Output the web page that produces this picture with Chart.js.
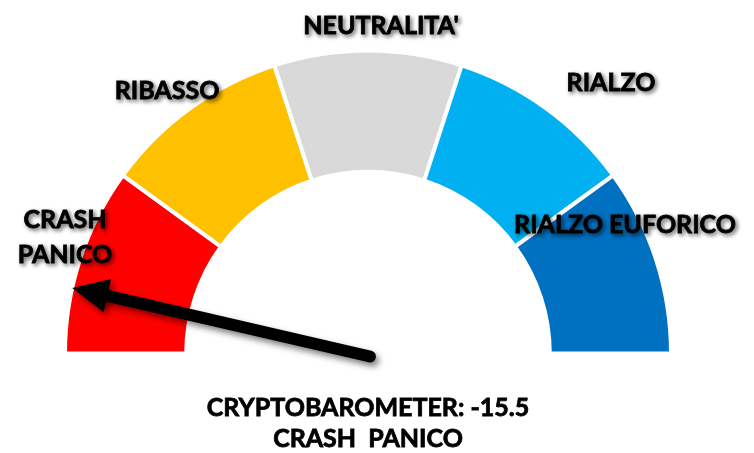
<!DOCTYPE html>
<html>
<head>
<meta charset="utf-8">
<script src="https://cdn.jsdelivr.net/npm/chart.js@4.4.1/dist/chart.umd.min.js"></script>
<style>
  html, body { margin: 0; padding: 0; background: #fff; }
  #wrap { width: 754px; height: 453px; position: relative; }
</style>
</head>
<body>
<div id="wrap"><canvas id="gauge"></canvas></div>
<script>
//
// Gauge data
var zones = ['CRASH PANICO', 'RIBASSO', "NEUTRALITA'", 'RIALZO', 'RIALZO EUFORICO'];
var zoneSizes = [1, 1, 1, 1, 1];
var zoneColors = ['#FF0000', '#FFC000', '#D9D9D9', '#00B0F0', '#0070C0'];
var gaugeMin = -18;
var gaugeMax = 18;
var needleValue = -15.5;
var titleLines = ['CRYPTOBAROMETER: -15.5', 'CRASH  PANICO'];

var FONT = 'bold 25px Lato, "Open Sans", sans-serif';

//
// Draw text a bit heavier
function boldText(ctx, txt, x, y){
  ctx.fillText(txt, x, y);
  ctx.strokeText(txt, x, y);
}

//
// Labels + needle + caption
var gaugeExtras = {
  id: 'gaugeExtras',
  afterDraw: function(chart){
    var ctx = chart.ctx;
    var arc = chart.getDatasetMeta(0).data[0];
    var cx = arc.x, cy = arc.y, r = arc.outerRadius;

    // zone labels, placed relative to the gauge centre
    var spots = [
      { lines: ['CRASH', 'PANICO'], dx: -303, dy: -134 },
      { lines: ['RIBASSO'], dx: -201, dy: -263 },
      { lines: ["NEUTRALITA'"], dx: 13, dy: -328 },
      { lines: ['RIALZO'], dx: 243, dy: -271 },
      { lines: ['RIALZO EUFORICO'], dx: 257, dy: -129 }
    ];

    ctx.save();
    ctx.font = FONT;
    ctx.textAlign = 'center';
    ctx.textBaseline = 'middle';
    ctx.fillStyle = '#000';
    ctx.strokeStyle = '#000';
    ctx.lineWidth = 0.8;
    ctx.shadowColor = 'rgba(0,0,0,0.55)';
    ctx.shadowBlur = 4;
    ctx.shadowOffsetX = 2;
    ctx.shadowOffsetY = 2;
    spots.forEach(function(s){
      s.lines.forEach(function(line, i){
        boldText(ctx, line, cx + s.dx, cy + s.dy + i * 35);
      });
    });
    ctx.restore();

    // needle
    var frac = (needleValue - gaugeMin) / (gaugeMax - gaugeMin);
    var ang = Math.PI + frac * Math.PI;
    var px = cx + 2, py = cy + 3;
    var tipX = cx + Math.cos(ang) * r;
    var tipY = cy + Math.sin(ang) * r;
    var headLen = 36, headW = 17;
    var baseX = tipX - Math.cos(ang) * headLen;
    var baseY = tipY - Math.sin(ang) * headLen;
    var nx = -Math.sin(ang), ny = Math.cos(ang);

    ctx.save();
    ctx.shadowColor = 'rgba(0,0,0,0.5)';
    ctx.shadowBlur = 6;
    ctx.shadowOffsetX = 3;
    ctx.shadowOffsetY = 4;
    ctx.strokeStyle = '#000';
    ctx.fillStyle = '#000';
    ctx.lineWidth = 12;
    ctx.lineCap = 'round';
    ctx.beginPath();
    ctx.moveTo(px, py);
    ctx.lineTo(baseX + Math.cos(ang) * 4, baseY + Math.sin(ang) * 4);
    ctx.stroke();
    ctx.beginPath();
    ctx.moveTo(tipX, tipY);
    ctx.lineTo(baseX + nx * headW, baseY + ny * headW);
    ctx.lineTo(baseX - nx * headW, baseY - ny * headW);
    ctx.closePath();
    ctx.fill();
    ctx.restore();

    // caption
    ctx.save();
    ctx.font = FONT;
    ctx.textAlign = 'center';
    ctx.textBaseline = 'middle';
    ctx.fillStyle = '#000';
    ctx.strokeStyle = '#000';
    ctx.lineWidth = 0.8;
    boldText(ctx, titleLines[0], cx, cy + 54);
    boldText(ctx, titleLines[1], cx, cy + 85);
    ctx.restore();
  }
};

new Chart(document.getElementById('gauge').getContext('2d'), {
  type: 'doughnut',
  data: {
    labels: zones,
    datasets: [{
      data: zoneSizes,
      backgroundColor: zoneColors,
      borderColor: '#FFFFFF',
      borderWidth: 4
    }]
  },
  options: {
    responsive: true,
    maintainAspectRatio: false,
    animation: false,
    rotation: -90,
    circumference: 180,
    cutout: '60%',
    layout: {
      padding: { left: 63, right: 81, top: 48, bottom: 97 }
    },
    plugins: {
      legend: { display: false },
      tooltip: { enabled: false }
    }
  },
  plugins: [gaugeExtras]
});
</script>
</body>
</html>
